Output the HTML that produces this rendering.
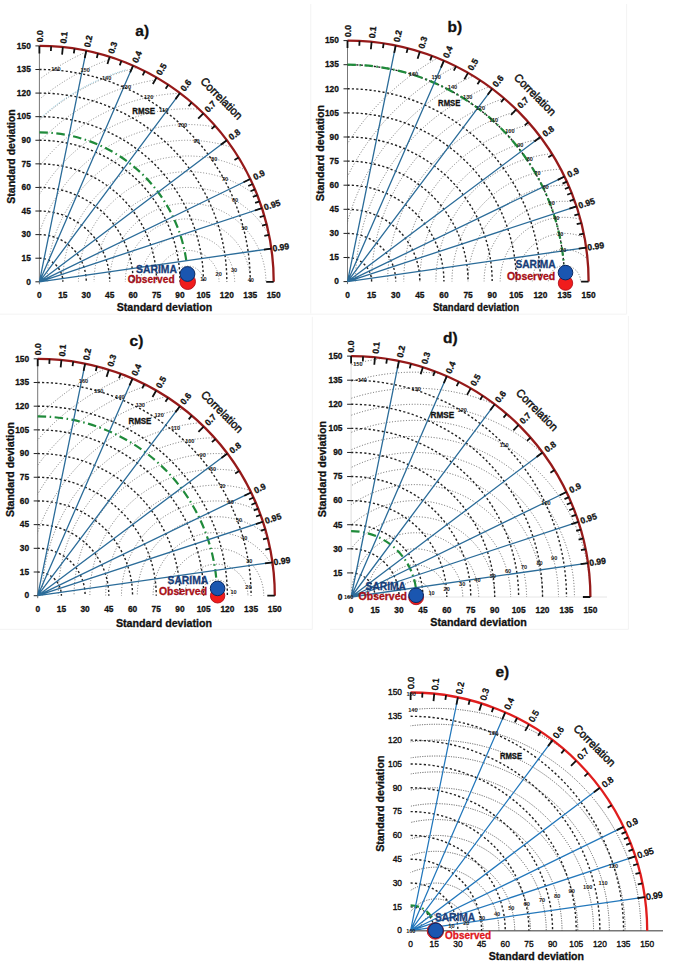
<!DOCTYPE html>
<html><head><meta charset="utf-8"><style>
html,body{margin:0;padding:0;background:#fff;}
body{width:685px;height:965px;overflow:hidden;}
svg{display:block;font-family:"Liberation Sans", sans-serif;}
</style></head><body>
<svg width="685" height="965" viewBox="0 0 685 965">
<g stroke="#f3f3f3" stroke-width="1"><line x1="310.8" y1="4" x2="310.8" y2="313.5"/><line x1="0" y1="314.2" x2="626.6" y2="314.2"/><line x1="626.6" y1="4" x2="626.6" y2="313.9"/><line x1="312.3" y1="316.8" x2="312.3" y2="629.3"/><line x1="0" y1="629.3" x2="312.3" y2="629.3"/><line x1="628.4" y1="316" x2="628.4" y2="629.3"/><line x1="330" y1="629.3" x2="628.4" y2="629.3"/></g>
<clipPath id="qa"><path d="M39.4 281.8 L273.7 281.8 A234.3 235.9 0 0 0 39.4 45.9 Z"/></clipPath>
<line x1="39.4" y1="284.3" x2="39.4" y2="45.9" stroke="#777" stroke-width="1"/>
<g clip-path="url(#qa)" fill="none" stroke="#7a7a7a" stroke-width="0.9" stroke-dasharray="1 1.8"><ellipse cx="187.79" cy="281.8" rx="15.62" ry="15.73"/><ellipse cx="187.79" cy="281.8" rx="31.24" ry="31.45"/><ellipse cx="187.79" cy="281.8" rx="46.86" ry="47.18"/><ellipse cx="187.79" cy="281.8" rx="62.48" ry="62.91"/><ellipse cx="187.79" cy="281.8" rx="78.1" ry="78.63"/><ellipse cx="187.79" cy="281.8" rx="93.72" ry="94.36"/><ellipse cx="187.79" cy="281.8" rx="109.34" ry="110.09"/><ellipse cx="187.79" cy="281.8" rx="124.96" ry="125.81"/><ellipse cx="187.79" cy="281.8" rx="140.58" ry="141.54"/><ellipse cx="187.79" cy="281.8" rx="156.2" ry="157.27"/><ellipse cx="187.79" cy="281.8" rx="171.82" ry="172.99"/><ellipse cx="187.79" cy="281.8" rx="187.44" ry="188.72"/><ellipse cx="187.79" cy="281.8" rx="203.06" ry="204.45"/><ellipse cx="187.79" cy="281.8" rx="218.68" ry="220.17"/><ellipse cx="187.79" cy="281.8" rx="234.3" ry="235.9"/><ellipse cx="187.79" cy="281.8" rx="249.92" ry="251.63"/></g>
<path d="M39.4 119.01A219.46 220.96 0 0 1 126 69.78" fill="none" stroke="#8cc6dc" stroke-width="1" stroke-dasharray="1.2 1.4"/>
<g fill="none" stroke="#222" stroke-width="1.4" stroke-dasharray="2.2 2.2"><path d="M39.4 258.21A23.43 23.59 0 0 1 62.83 281.8"/><path d="M39.4 234.62A46.86 47.18 0 0 1 86.26 281.8"/><path d="M39.4 211.03A70.29 70.77 0 0 1 109.69 281.8"/><path d="M39.4 187.44A93.72 94.36 0 0 1 133.12 281.8"/><path d="M39.4 163.85A117.15 117.95 0 0 1 156.55 281.8"/><path d="M39.4 140.26A140.58 141.54 0 0 1 179.98 281.8"/><path d="M39.4 116.67A164.01 165.13 0 0 1 203.41 281.8"/><path d="M39.4 93.08A187.44 188.72 0 0 1 226.84 281.8"/><path d="M39.4 69.49A210.87 212.31 0 0 1 250.27 281.8"/></g>
<path d="M35.4 281.8H39.4M35.4 258.21H39.4M35.4 234.62H39.4M35.4 211.03H39.4M35.4 187.44H39.4M35.4 163.85H39.4M35.4 140.26H39.4M35.4 116.67H39.4M35.4 93.08H39.4M35.4 69.49H39.4M35.4 45.9H39.4" stroke="#222" stroke-width="1"/>
<path d="M39.4 132.4A148.39 149.4 0 0 1 186.6 262.94" fill="none" stroke="#1f8a3a" stroke-width="2.2" stroke-dasharray="8.5 3.5 1.5 3.5"/>
<path d="M39.4 281.8L86.26 50.67M39.4 281.8L133.12 65.59M39.4 281.8L179.98 93.08M39.4 281.8L226.84 140.26M39.4 281.8L250.27 178.97M39.4 281.8L261.99 208.14M39.4 281.8L271.36 248.52" stroke="#2b6c99" stroke-width="1.3" fill="none"/>
<path d="M39.4 45.9A234.3 235.9 0 0 1 273.7 281.8" fill="none" stroke="#961a1a" stroke-width="2.3"/>
<path d="M39.4 45.9L39.4 53.4M62.83 47.08L62.09 54.55M86.26 50.67L84.77 58.02M109.69 56.77L107.45 63.92M133.12 65.59L130.14 72.48M156.55 77.5L152.82 84.01M179.98 93.08L175.5 99.09M203.41 113.33L198.18 118.71M226.84 140.26L220.85 144.78M250.27 178.97L243.53 182.26M261.99 208.14L254.86 210.5M271.36 248.52L263.93 249.59M273.7 281.8L266.2 281.8M51.12 46.2L50.88 50.99M74.54 48.57L73.83 53.32M97.97 53.39L96.78 58.04M121.41 60.82L119.74 65.32M144.84 71.13L142.69 75.43M168.27 84.78L165.64 88.8M191.7 102.53L188.59 106.19M215.13 125.77L211.54 128.95M238.56 157.53L234.48 160.07M252.61 183.99L248.25 186M254.96 189.35L250.54 191.24M257.3 195.09L252.84 196.87M259.64 201.32L255.13 202.96M264.33 215.75L259.72 217.1M266.67 224.45L262.02 225.63M269.01 234.86L264.31 235.82" stroke="#111" stroke-width="1.8" fill="none"/>
<g font-size="8.8" font-weight="bold" fill="#111" stroke="#111" stroke-width="0.3"><text transform="translate(39.4 42.3) rotate(-90)" y="3.12" textLength="11.99" lengthAdjust="spacingAndGlyphs">0.0</text><text transform="translate(63.19 43.5) rotate(-84.3)" y="3.12" textLength="11.99" lengthAdjust="spacingAndGlyphs">0.1</text><text transform="translate(86.98 47.14) rotate(-78.54)" y="3.12" textLength="11.99" lengthAdjust="spacingAndGlyphs">0.2</text><text transform="translate(110.76 53.33) rotate(-72.65)" y="3.12" textLength="11.99" lengthAdjust="spacingAndGlyphs">0.3</text><text transform="translate(134.55 62.29) rotate(-66.56)" y="3.12" textLength="11.99" lengthAdjust="spacingAndGlyphs">0.4</text><text transform="translate(158.34 74.38) rotate(-60.17)" y="3.12" textLength="11.99" lengthAdjust="spacingAndGlyphs">0.5</text><text transform="translate(182.13 90.19) rotate(-53.32)" y="3.12" textLength="11.99" lengthAdjust="spacingAndGlyphs">0.6</text><text transform="translate(205.92 110.75) rotate(-45.77)" y="3.12" textLength="11.99" lengthAdjust="spacingAndGlyphs">0.7</text><text transform="translate(229.71 138.09) rotate(-37.06)" y="3.12" textLength="11.99" lengthAdjust="spacingAndGlyphs">0.8</text><text transform="translate(253.51 177.4) rotate(-26)" y="3.12" textLength="11.99" lengthAdjust="spacingAndGlyphs">0.9</text><text transform="translate(264.07 207.45) rotate(-18.31)" y="3.12" textLength="16.78" lengthAdjust="spacingAndGlyphs">0.95</text><text transform="translate(272.54 248.35) rotate(-8.16)" y="3.12" textLength="16.78" lengthAdjust="spacingAndGlyphs">0.99</text></g>
<g font-size="9.3" font-weight="bold" fill="#111" stroke="#111" stroke-width="0.3"><text x="30.8" y="284.59" text-anchor="end" textLength="4.65" lengthAdjust="spacingAndGlyphs">0</text><text x="39.4" y="297.8" text-anchor="middle" textLength="4.65" lengthAdjust="spacingAndGlyphs">0</text><text x="30.8" y="261" text-anchor="end" textLength="9.31" lengthAdjust="spacingAndGlyphs">15</text><text x="62.83" y="297.8" text-anchor="middle" textLength="9.31" lengthAdjust="spacingAndGlyphs">15</text><text x="30.8" y="237.41" text-anchor="end" textLength="9.31" lengthAdjust="spacingAndGlyphs">30</text><text x="86.26" y="297.8" text-anchor="middle" textLength="9.31" lengthAdjust="spacingAndGlyphs">30</text><text x="30.8" y="213.82" text-anchor="end" textLength="9.31" lengthAdjust="spacingAndGlyphs">45</text><text x="109.69" y="297.8" text-anchor="middle" textLength="9.31" lengthAdjust="spacingAndGlyphs">45</text><text x="30.8" y="190.23" text-anchor="end" textLength="9.31" lengthAdjust="spacingAndGlyphs">60</text><text x="133.12" y="297.8" text-anchor="middle" textLength="9.31" lengthAdjust="spacingAndGlyphs">60</text><text x="30.8" y="166.64" text-anchor="end" textLength="9.31" lengthAdjust="spacingAndGlyphs">75</text><text x="156.55" y="297.8" text-anchor="middle" textLength="9.31" lengthAdjust="spacingAndGlyphs">75</text><text x="30.8" y="143.05" text-anchor="end" textLength="9.31" lengthAdjust="spacingAndGlyphs">90</text><text x="179.98" y="297.8" text-anchor="middle" textLength="9.31" lengthAdjust="spacingAndGlyphs">90</text><text x="30.8" y="119.46" text-anchor="end" textLength="13.96" lengthAdjust="spacingAndGlyphs">105</text><text x="203.41" y="297.8" text-anchor="middle" textLength="13.96" lengthAdjust="spacingAndGlyphs">105</text><text x="30.8" y="95.87" text-anchor="end" textLength="13.96" lengthAdjust="spacingAndGlyphs">120</text><text x="226.84" y="297.8" text-anchor="middle" textLength="13.96" lengthAdjust="spacingAndGlyphs">120</text><text x="30.8" y="72.28" text-anchor="end" textLength="13.96" lengthAdjust="spacingAndGlyphs">135</text><text x="250.27" y="297.8" text-anchor="middle" textLength="13.96" lengthAdjust="spacingAndGlyphs">135</text><text x="30.8" y="48.69" text-anchor="end" textLength="13.96" lengthAdjust="spacingAndGlyphs">150</text><text x="273.7" y="297.8" text-anchor="middle" textLength="13.96" lengthAdjust="spacingAndGlyphs">150</text></g>
<text x="164.4" y="311" font-size="10.7" font-weight="bold" fill="#111" stroke="#111" stroke-width="0.3" text-anchor="middle" textLength="95.5" lengthAdjust="spacingAndGlyphs">Standard deviation</text>
<text transform="translate(14.5 156.5) rotate(-90)" font-size="10.7" font-weight="bold" fill="#111" stroke="#111" stroke-width="0.3" text-anchor="middle" textLength="94.3" lengthAdjust="spacingAndGlyphs">Standard deviation</text>
<text transform="translate(218.75 101.2) rotate(45)" font-size="11.5" fill="#111" text-anchor="middle" textLength="54" lengthAdjust="spacingAndGlyphs" stroke="#111" stroke-width="0.45">Correlation</text>
<text x="135.3" y="36" font-size="15.5" font-weight="bold" fill="#111" stroke="#111" stroke-width="0.3">a)</text>
<text x="132.3" y="114.3" font-size="8.7" font-weight="bold" fill="#111" stroke="#111" stroke-width="0.3" textLength="22.7" lengthAdjust="spacingAndGlyphs">RMSE</text>
<g font-size="5.6" fill="#222" font-weight="bold"><text x="55.9" y="71.1" text-anchor="middle">160</text><text x="85.1" y="71.8" text-anchor="middle">150</text><text x="106.6" y="79.9" text-anchor="middle">140</text><text x="126.4" y="89.3" text-anchor="middle">130</text><text x="148.6" y="99.1" text-anchor="middle">120</text><text x="163.8" y="112.2" text-anchor="middle">110</text><text x="182.5" y="127.1" text-anchor="middle">100</text><text x="196.5" y="143" text-anchor="middle">90</text><text x="214.2" y="160.9" text-anchor="middle">80</text><text x="224.9" y="180.8" text-anchor="middle">70</text><text x="235.1" y="202.1" text-anchor="middle">60</text><text x="244.5" y="230.2" text-anchor="middle">50</text><text x="250.8" y="282.2" text-anchor="middle">40</text><text x="234" y="271.7" text-anchor="middle">30</text><text x="218.7" y="276.4" text-anchor="middle">20</text><text x="203.4" y="280.7" text-anchor="middle">10</text></g>
<circle cx="187.7" cy="281.7" r="7.8" fill="#f01c1c" stroke="#b0101a" stroke-width="0.9"/>
<circle cx="187.5" cy="274" r="7.4" fill="#1a56b0" stroke="#0a2860" stroke-width="1.0"/>
<text x="176.9" y="273" font-size="11" font-weight="bold" fill="#173c78" stroke="#173c78" stroke-width="0.3" text-anchor="end" textLength="40.8" lengthAdjust="spacingAndGlyphs">SARIMA</text>
<text x="174.6" y="283.4" font-size="11" font-weight="bold" fill="#a80e16" stroke="#a80e16" stroke-width="0.3" text-anchor="end" textLength="46.9" lengthAdjust="spacingAndGlyphs">Observed</text><clipPath id="qb"><path d="M347.5 281.6 L588.6 281.6 A241.1 241 0 0 0 347.5 40.6 Z"/></clipPath>
<line x1="347.5" y1="284.1" x2="347.5" y2="40.6" stroke="#777" stroke-width="1"/>
<g clip-path="url(#qb)" fill="none" stroke="#626262" stroke-width="0.9" stroke-dasharray="1 1.8"><ellipse cx="564.49" cy="281.6" rx="16.07" ry="16.07"/><ellipse cx="564.49" cy="281.6" rx="32.15" ry="32.13"/><ellipse cx="564.49" cy="281.6" rx="48.22" ry="48.2"/><ellipse cx="564.49" cy="281.6" rx="64.29" ry="64.27"/><ellipse cx="564.49" cy="281.6" rx="80.37" ry="80.33"/><ellipse cx="564.49" cy="281.6" rx="96.44" ry="96.4"/><ellipse cx="564.49" cy="281.6" rx="112.51" ry="112.47"/><ellipse cx="564.49" cy="281.6" rx="128.59" ry="128.53"/><ellipse cx="564.49" cy="281.6" rx="144.66" ry="144.6"/><ellipse cx="564.49" cy="281.6" rx="160.73" ry="160.67"/><ellipse cx="564.49" cy="281.6" rx="176.81" ry="176.73"/><ellipse cx="564.49" cy="281.6" rx="192.88" ry="192.8"/><ellipse cx="564.49" cy="281.6" rx="208.95" ry="208.87"/><ellipse cx="564.49" cy="281.6" rx="225.03" ry="224.93"/><ellipse cx="564.49" cy="281.6" rx="241.1" ry="241"/><ellipse cx="564.49" cy="281.6" rx="257.17" ry="257.07"/></g>
<g fill="none" stroke="#222" stroke-width="1.4" stroke-dasharray="2.2 2.2"><path d="M347.5 257.5A24.11 24.1 0 0 1 371.61 281.6"/><path d="M347.5 233.4A48.22 48.2 0 0 1 395.72 281.6"/><path d="M347.5 209.3A72.33 72.3 0 0 1 419.83 281.6"/><path d="M347.5 185.2A96.44 96.4 0 0 1 443.94 281.6"/><path d="M347.5 161.1A120.55 120.5 0 0 1 468.05 281.6"/><path d="M347.5 137A144.66 144.6 0 0 1 492.16 281.6"/><path d="M347.5 112.9A168.77 168.7 0 0 1 516.27 281.6"/><path d="M347.5 88.8A192.88 192.8 0 0 1 540.38 281.6"/><path d="M347.5 64.7A216.99 216.9 0 0 1 564.49 281.6"/></g>
<path d="M343.5 281.6H347.5M343.5 257.5H347.5M343.5 233.4H347.5M343.5 209.3H347.5M343.5 185.2H347.5M343.5 161.1H347.5M343.5 137H347.5M343.5 112.9H347.5M343.5 88.8H347.5M343.5 64.7H347.5M343.5 40.6H347.5" stroke="#222" stroke-width="1"/>
<path d="M347.5 64.7A216.99 216.9 0 0 1 563.8 264.26" fill="none" stroke="#1f8a3a" stroke-width="2.2" stroke-dasharray="8.5 3.5 1.5 3.5"/>
<path d="M347.5 281.6L395.72 45.47M347.5 281.6L443.94 60.72M347.5 281.6L492.16 88.8M347.5 281.6L540.38 137M347.5 281.6L564.49 176.55M347.5 281.6L576.54 206.35M347.5 281.6L586.19 247.6" stroke="#2b6c99" stroke-width="1.3" fill="none"/>
<path d="M347.5 40.6A241.1 241 0 0 1 588.6 281.6" fill="none" stroke="#961a1a" stroke-width="2.3"/>
<path d="M347.5 40.6L347.5 48.1M371.61 41.81L370.86 49.27M395.72 45.47L394.22 52.82M419.83 51.7L417.58 58.85M443.94 60.72L440.94 67.59M468.05 72.89L464.3 79.38M492.16 88.8L487.66 94.8M516.27 109.49L511.02 114.85M540.38 137L534.38 141.5M564.49 176.55L557.74 179.82M576.54 206.35L569.42 208.69M586.19 247.6L578.76 248.66M588.6 281.6L581.1 281.6M359.56 40.9L359.31 45.7M383.66 43.33L382.94 48.07M407.77 48.25L406.57 52.9M431.88 55.84L430.2 60.34M456 66.38L453.83 70.67M480.11 80.33L477.46 84.33M504.22 98.46L501.09 102.1M528.33 122.19L524.72 125.37M552.44 154.65L548.35 157.17M566.9 181.68L562.53 183.67M569.31 187.15L564.9 189.03M571.72 193.02L567.26 194.78M574.13 199.38L569.62 201.01M578.96 214.12L574.35 215.46M581.37 223.01L576.71 224.18M583.78 233.64L579.07 234.6" stroke="#111" stroke-width="1.8" fill="none"/>
<g font-size="8.8" font-weight="bold" fill="#111" stroke="#111" stroke-width="0.3"><text transform="translate(347.5 37) rotate(-90)" y="3.12" textLength="11.99" lengthAdjust="spacingAndGlyphs">0.0</text><text transform="translate(371.97 38.23) rotate(-84.26)" y="3.12" textLength="11.99" lengthAdjust="spacingAndGlyphs">0.1</text><text transform="translate(396.44 41.94) rotate(-78.46)" y="3.12" textLength="11.99" lengthAdjust="spacingAndGlyphs">0.2</text><text transform="translate(420.91 48.27) rotate(-72.54)" y="3.12" textLength="11.99" lengthAdjust="spacingAndGlyphs">0.3</text><text transform="translate(445.38 57.42) rotate(-66.41)" y="3.12" textLength="11.99" lengthAdjust="spacingAndGlyphs">0.4</text><text transform="translate(469.85 69.77) rotate(-59.99)" y="3.12" textLength="11.99" lengthAdjust="spacingAndGlyphs">0.5</text><text transform="translate(494.32 85.92) rotate(-53.12)" y="3.12" textLength="11.99" lengthAdjust="spacingAndGlyphs">0.6</text><text transform="translate(518.79 106.92) rotate(-45.56)" y="3.12" textLength="11.99" lengthAdjust="spacingAndGlyphs">0.7</text><text transform="translate(543.26 134.84) rotate(-36.86)" y="3.12" textLength="11.99" lengthAdjust="spacingAndGlyphs">0.8</text><text transform="translate(567.73 174.98) rotate(-25.83)" y="3.12" textLength="11.99" lengthAdjust="spacingAndGlyphs">0.9</text><text transform="translate(578.64 205.66) rotate(-18.19)" y="3.12" textLength="16.78" lengthAdjust="spacingAndGlyphs">0.95</text><text transform="translate(587.38 247.43) rotate(-8.11)" y="3.12" textLength="16.78" lengthAdjust="spacingAndGlyphs">0.99</text></g>
<g font-size="9.3" font-weight="bold" fill="#111" stroke="#111" stroke-width="0.3"><text x="338.9" y="284.39" text-anchor="end" textLength="4.65" lengthAdjust="spacingAndGlyphs">0</text><text x="347.5" y="297.6" text-anchor="middle" textLength="4.65" lengthAdjust="spacingAndGlyphs">0</text><text x="338.9" y="260.29" text-anchor="end" textLength="9.31" lengthAdjust="spacingAndGlyphs">15</text><text x="371.61" y="297.6" text-anchor="middle" textLength="9.31" lengthAdjust="spacingAndGlyphs">15</text><text x="338.9" y="236.19" text-anchor="end" textLength="9.31" lengthAdjust="spacingAndGlyphs">30</text><text x="395.72" y="297.6" text-anchor="middle" textLength="9.31" lengthAdjust="spacingAndGlyphs">30</text><text x="338.9" y="212.09" text-anchor="end" textLength="9.31" lengthAdjust="spacingAndGlyphs">45</text><text x="419.83" y="297.6" text-anchor="middle" textLength="9.31" lengthAdjust="spacingAndGlyphs">45</text><text x="338.9" y="187.99" text-anchor="end" textLength="9.31" lengthAdjust="spacingAndGlyphs">60</text><text x="443.94" y="297.6" text-anchor="middle" textLength="9.31" lengthAdjust="spacingAndGlyphs">60</text><text x="338.9" y="163.89" text-anchor="end" textLength="9.31" lengthAdjust="spacingAndGlyphs">75</text><text x="468.05" y="297.6" text-anchor="middle" textLength="9.31" lengthAdjust="spacingAndGlyphs">75</text><text x="338.9" y="139.79" text-anchor="end" textLength="9.31" lengthAdjust="spacingAndGlyphs">90</text><text x="492.16" y="297.6" text-anchor="middle" textLength="9.31" lengthAdjust="spacingAndGlyphs">90</text><text x="338.9" y="115.69" text-anchor="end" textLength="13.96" lengthAdjust="spacingAndGlyphs">105</text><text x="516.27" y="297.6" text-anchor="middle" textLength="13.96" lengthAdjust="spacingAndGlyphs">105</text><text x="338.9" y="91.59" text-anchor="end" textLength="13.96" lengthAdjust="spacingAndGlyphs">120</text><text x="540.38" y="297.6" text-anchor="middle" textLength="13.96" lengthAdjust="spacingAndGlyphs">120</text><text x="338.9" y="67.49" text-anchor="end" textLength="13.96" lengthAdjust="spacingAndGlyphs">135</text><text x="564.49" y="297.6" text-anchor="middle" textLength="13.96" lengthAdjust="spacingAndGlyphs">135</text><text x="338.9" y="43.39" text-anchor="end" textLength="13.96" lengthAdjust="spacingAndGlyphs">150</text><text x="588.6" y="297.6" text-anchor="middle" textLength="13.96" lengthAdjust="spacingAndGlyphs">150</text></g>
<text x="476" y="311.3" font-size="10.7" font-weight="bold" fill="#111" stroke="#111" stroke-width="0.3" text-anchor="middle" textLength="86" lengthAdjust="spacingAndGlyphs">Standard deviation</text>
<text transform="translate(324.1 153) rotate(-90)" font-size="10.7" font-weight="bold" fill="#111" stroke="#111" stroke-width="0.3" text-anchor="middle" textLength="96.3" lengthAdjust="spacingAndGlyphs">Standard deviation</text>
<text transform="translate(532.35 97.4) rotate(45)" font-size="11.5" fill="#111" text-anchor="middle" textLength="54" lengthAdjust="spacingAndGlyphs" stroke="#111" stroke-width="0.45">Correlation</text>
<text x="447.5" y="32.2" font-size="15.5" font-weight="bold" fill="#111" stroke="#111" stroke-width="0.3">b)</text>
<text x="438.1" y="106.2" font-size="8.9" font-weight="bold" fill="#111" stroke="#111" stroke-width="0.3" textLength="22.2" lengthAdjust="spacingAndGlyphs">RMSE</text>
<g font-size="5.6" fill="#222" font-weight="bold"><text x="413.5" y="76.1" text-anchor="middle">160</text><text x="436.1" y="79.1" text-anchor="middle">150</text><text x="452.5" y="89" text-anchor="middle">140</text><text x="467.7" y="99" text-anchor="middle">130</text><text x="480.4" y="110.4" text-anchor="middle">120</text><text x="493.7" y="122.4" text-anchor="middle">110</text><text x="509.9" y="132.6" text-anchor="middle">100</text><text x="520.3" y="146.5" text-anchor="middle">90</text><text x="529.8" y="160.7" text-anchor="middle">80</text><text x="537.4" y="174.6" text-anchor="middle">70</text><text x="545.5" y="189.2" text-anchor="middle">60</text><text x="551.7" y="204.9" text-anchor="middle">50</text><text x="556.3" y="220" text-anchor="middle">40</text><text x="560.3" y="236.4" text-anchor="middle">30</text><text x="563.2" y="251.9" text-anchor="middle">20</text></g>
<circle cx="565.5" cy="283.1" r="7.2" fill="#f01c1c" stroke="#b0101a" stroke-width="0.9"/>
<circle cx="565.5" cy="272.6" r="7.3" fill="#1a56b0" stroke="#0a2860" stroke-width="1.0"/>
<text x="555.6" y="268.3" font-size="11" font-weight="bold" fill="#173c78" stroke="#173c78" stroke-width="0.3" text-anchor="end" textLength="40.2" lengthAdjust="spacingAndGlyphs">SARIMA</text>
<text x="555.2" y="280.1" font-size="11" font-weight="bold" fill="#a80e16" stroke="#a80e16" stroke-width="0.3" text-anchor="end" textLength="48.3" lengthAdjust="spacingAndGlyphs">Observed</text><clipPath id="qc"><path d="M37.7 595.7 L274.8 595.7 A237.1 236.9 0 0 0 37.7 358.8 Z"/></clipPath>
<line x1="37.7" y1="598.2" x2="37.7" y2="358.8" stroke="#777" stroke-width="1"/>
<g clip-path="url(#qc)" fill="none" stroke="#626262" stroke-width="0.9" stroke-dasharray="1 1.8"><ellipse cx="216.32" cy="595.7" rx="15.81" ry="15.79"/><ellipse cx="216.32" cy="595.7" rx="31.61" ry="31.59"/><ellipse cx="216.32" cy="595.7" rx="47.42" ry="47.38"/><ellipse cx="216.32" cy="595.7" rx="63.23" ry="63.17"/><ellipse cx="216.32" cy="595.7" rx="79.03" ry="78.97"/><ellipse cx="216.32" cy="595.7" rx="94.84" ry="94.76"/><ellipse cx="216.32" cy="595.7" rx="110.65" ry="110.55"/><ellipse cx="216.32" cy="595.7" rx="126.45" ry="126.35"/><ellipse cx="216.32" cy="595.7" rx="142.26" ry="142.14"/><ellipse cx="216.32" cy="595.7" rx="158.07" ry="157.93"/><ellipse cx="216.32" cy="595.7" rx="173.87" ry="173.73"/><ellipse cx="216.32" cy="595.7" rx="189.68" ry="189.52"/><ellipse cx="216.32" cy="595.7" rx="205.49" ry="205.31"/><ellipse cx="216.32" cy="595.7" rx="221.29" ry="221.11"/><ellipse cx="216.32" cy="595.7" rx="237.1" ry="236.9"/><ellipse cx="216.32" cy="595.7" rx="252.91" ry="252.69"/></g>
<g fill="none" stroke="#222" stroke-width="1.4" stroke-dasharray="2.2 2.2"><path d="M37.7 572.01A23.71 23.69 0 0 1 61.41 595.7"/><path d="M37.7 548.32A47.42 47.38 0 0 1 85.12 595.7"/><path d="M37.7 524.63A71.13 71.07 0 0 1 108.83 595.7"/><path d="M37.7 500.94A94.84 94.76 0 0 1 132.54 595.7"/><path d="M37.7 477.25A118.55 118.45 0 0 1 156.25 595.7"/><path d="M37.7 453.56A142.26 142.14 0 0 1 179.96 595.7"/><path d="M37.7 429.87A165.97 165.83 0 0 1 203.67 595.7"/><path d="M37.7 406.18A189.68 189.52 0 0 1 227.38 595.7"/><path d="M37.7 382.49A213.39 213.21 0 0 1 251.09 595.7"/></g>
<path d="M33.7 595.7H37.7M33.7 572.01H37.7M33.7 548.32H37.7M33.7 524.63H37.7M33.7 500.94H37.7M33.7 477.25H37.7M33.7 453.56H37.7M33.7 429.87H37.7M33.7 406.18H37.7M33.7 382.49H37.7M33.7 358.8H37.7" stroke="#222" stroke-width="1"/>
<path d="M37.7 416.45A179.41 179.25 0 0 1 216.44 580.29" fill="none" stroke="#1f8a3a" stroke-width="2.2" stroke-dasharray="8.5 3.5 1.5 3.5"/>
<path d="M37.7 595.7L85.12 363.59M37.7 595.7L132.54 378.58M37.7 595.7L179.96 406.18M37.7 595.7L227.38 453.56M37.7 595.7L251.09 492.44M37.7 595.7L262.94 521.73M37.7 595.7L272.43 562.28" stroke="#2b6c99" stroke-width="1.3" fill="none"/>
<path d="M37.7 358.8A237.1 236.9 0 0 1 274.8 595.7" fill="none" stroke="#961a1a" stroke-width="2.3"/>
<path d="M37.7 358.8L37.7 366.3M61.41 359.99L60.66 367.45M85.12 363.59L83.62 370.93M108.83 369.71L106.58 376.87M132.54 378.58L129.54 385.45M156.25 390.54L152.5 397.03M179.96 406.18L175.46 412.18M203.67 426.52L198.42 431.87M227.38 453.56L221.38 458.06M251.09 492.44L244.34 495.7M262.94 521.73L255.82 524.07M272.43 562.28L265 563.34M274.8 595.7L267.3 595.7M49.56 359.1L49.31 363.89M73.26 361.48L72.54 366.23M96.97 366.32L95.77 370.97M120.69 373.78L119 378.28M144.39 384.14L142.23 388.43M168.11 397.85L165.46 401.86M191.81 415.67L188.69 419.32M215.52 439.01L211.92 442.18M239.24 470.91L235.15 473.43M253.46 497.48L249.09 499.47M255.83 502.85L251.42 504.73M258.2 508.63L253.74 510.39M260.57 514.88L256.06 516.51M265.32 529.37L260.71 530.71M267.69 538.11L263.03 539.27M270.06 548.56L265.35 549.51" stroke="#111" stroke-width="1.8" fill="none"/>
<g font-size="8.8" font-weight="bold" fill="#111" stroke="#111" stroke-width="0.3"><text transform="translate(37.7 355.2) rotate(-90)" y="3.12" textLength="11.99" lengthAdjust="spacingAndGlyphs">0.0</text><text transform="translate(61.77 356.41) rotate(-84.26)" y="3.12" textLength="11.99" lengthAdjust="spacingAndGlyphs">0.1</text><text transform="translate(85.84 360.06) rotate(-78.45)" y="3.12" textLength="11.99" lengthAdjust="spacingAndGlyphs">0.2</text><text transform="translate(109.91 366.28) rotate(-72.53)" y="3.12" textLength="11.99" lengthAdjust="spacingAndGlyphs">0.3</text><text transform="translate(133.98 375.28) rotate(-66.4)" y="3.12" textLength="11.99" lengthAdjust="spacingAndGlyphs">0.4</text><text transform="translate(158.05 387.42) rotate(-59.98)" y="3.12" textLength="11.99" lengthAdjust="spacingAndGlyphs">0.5</text><text transform="translate(182.12 403.3) rotate(-53.11)" y="3.12" textLength="11.99" lengthAdjust="spacingAndGlyphs">0.6</text><text transform="translate(206.19 423.95) rotate(-45.55)" y="3.12" textLength="11.99" lengthAdjust="spacingAndGlyphs">0.7</text><text transform="translate(230.26 451.4) rotate(-36.85)" y="3.12" textLength="11.99" lengthAdjust="spacingAndGlyphs">0.8</text><text transform="translate(254.33 490.87) rotate(-25.82)" y="3.12" textLength="11.99" lengthAdjust="spacingAndGlyphs">0.9</text><text transform="translate(265.04 521.04) rotate(-18.18)" y="3.12" textLength="16.78" lengthAdjust="spacingAndGlyphs">0.95</text><text transform="translate(273.62 562.11) rotate(-8.1)" y="3.12" textLength="16.78" lengthAdjust="spacingAndGlyphs">0.99</text></g>
<g font-size="9.3" font-weight="bold" fill="#111" stroke="#111" stroke-width="0.3"><text x="29.1" y="598.49" text-anchor="end" textLength="4.65" lengthAdjust="spacingAndGlyphs">0</text><text x="37.7" y="611.7" text-anchor="middle" textLength="4.65" lengthAdjust="spacingAndGlyphs">0</text><text x="29.1" y="574.8" text-anchor="end" textLength="9.31" lengthAdjust="spacingAndGlyphs">15</text><text x="61.41" y="611.7" text-anchor="middle" textLength="9.31" lengthAdjust="spacingAndGlyphs">15</text><text x="29.1" y="551.11" text-anchor="end" textLength="9.31" lengthAdjust="spacingAndGlyphs">30</text><text x="85.12" y="611.7" text-anchor="middle" textLength="9.31" lengthAdjust="spacingAndGlyphs">30</text><text x="29.1" y="527.42" text-anchor="end" textLength="9.31" lengthAdjust="spacingAndGlyphs">45</text><text x="108.83" y="611.7" text-anchor="middle" textLength="9.31" lengthAdjust="spacingAndGlyphs">45</text><text x="29.1" y="503.73" text-anchor="end" textLength="9.31" lengthAdjust="spacingAndGlyphs">60</text><text x="132.54" y="611.7" text-anchor="middle" textLength="9.31" lengthAdjust="spacingAndGlyphs">60</text><text x="29.1" y="480.04" text-anchor="end" textLength="9.31" lengthAdjust="spacingAndGlyphs">75</text><text x="156.25" y="611.7" text-anchor="middle" textLength="9.31" lengthAdjust="spacingAndGlyphs">75</text><text x="29.1" y="456.35" text-anchor="end" textLength="9.31" lengthAdjust="spacingAndGlyphs">90</text><text x="179.96" y="611.7" text-anchor="middle" textLength="9.31" lengthAdjust="spacingAndGlyphs">90</text><text x="29.1" y="432.66" text-anchor="end" textLength="13.96" lengthAdjust="spacingAndGlyphs">105</text><text x="203.67" y="611.7" text-anchor="middle" textLength="13.96" lengthAdjust="spacingAndGlyphs">105</text><text x="29.1" y="408.97" text-anchor="end" textLength="13.96" lengthAdjust="spacingAndGlyphs">120</text><text x="227.38" y="611.7" text-anchor="middle" textLength="13.96" lengthAdjust="spacingAndGlyphs">120</text><text x="29.1" y="385.28" text-anchor="end" textLength="13.96" lengthAdjust="spacingAndGlyphs">135</text><text x="251.09" y="611.7" text-anchor="middle" textLength="13.96" lengthAdjust="spacingAndGlyphs">135</text><text x="29.1" y="361.59" text-anchor="end" textLength="13.96" lengthAdjust="spacingAndGlyphs">150</text><text x="274.8" y="611.7" text-anchor="middle" textLength="13.96" lengthAdjust="spacingAndGlyphs">150</text></g>
<text x="164" y="626.6" font-size="10.7" font-weight="bold" fill="#111" stroke="#111" stroke-width="0.3" text-anchor="middle" textLength="96.1" lengthAdjust="spacingAndGlyphs">Standard deviation</text>
<text transform="translate(13.5 469.5) rotate(-90)" font-size="10.7" font-weight="bold" fill="#111" stroke="#111" stroke-width="0.3" text-anchor="middle" textLength="95" lengthAdjust="spacingAndGlyphs">Standard deviation</text>
<text transform="translate(219.25 414.5) rotate(45)" font-size="11.5" fill="#111" text-anchor="middle" textLength="54" lengthAdjust="spacingAndGlyphs" stroke="#111" stroke-width="0.45">Correlation</text>
<text x="129.6" y="346.2" font-size="15.5" font-weight="bold" fill="#111" stroke="#111" stroke-width="0.3">c)</text>
<text x="128.5" y="423.8" font-size="8.7" font-weight="bold" fill="#111" stroke="#111" stroke-width="0.3" textLength="22.9" lengthAdjust="spacingAndGlyphs">RMSE</text>
<g font-size="5.6" fill="#222" font-weight="bold"><text x="83.5" y="383.4" text-anchor="middle">160</text><text x="98.8" y="393" text-anchor="middle">150</text><text x="119.9" y="399.1" text-anchor="middle">140</text><text x="140.3" y="407.3" text-anchor="middle">130</text><text x="159.1" y="417.1" text-anchor="middle">120</text><text x="175.5" y="430.4" text-anchor="middle">110</text><text x="189.8" y="442.6" text-anchor="middle">100</text><text x="202.7" y="456.5" text-anchor="middle">90</text><text x="212.9" y="471.4" text-anchor="middle">80</text><text x="222.3" y="487.6" text-anchor="middle">70</text><text x="230.7" y="504.1" text-anchor="middle">60</text><text x="239.1" y="521.8" text-anchor="middle">50</text><text x="244.3" y="539.9" text-anchor="middle">40</text><text x="249.3" y="563.2" text-anchor="middle">30</text><text x="248.4" y="589.3" text-anchor="middle">20</text><text x="233.5" y="594" text-anchor="middle">10</text></g>
<circle cx="217.6" cy="595.8" r="7.2" fill="#f01c1c" stroke="#b0101a" stroke-width="0.9"/>
<circle cx="217.6" cy="588.4" r="7.3" fill="#1a56b0" stroke="#0a2860" stroke-width="1.0"/>
<text x="208.3" y="583.7" font-size="11" font-weight="bold" fill="#173c78" stroke="#173c78" stroke-width="0.3" text-anchor="end" textLength="40.8" lengthAdjust="spacingAndGlyphs">SARIMA</text>
<text x="207" y="594.9" font-size="11" font-weight="bold" fill="#a80e16" stroke="#a80e16" stroke-width="0.3" text-anchor="end" textLength="48" lengthAdjust="spacingAndGlyphs">Observed</text><clipPath id="qd"><path d="M351.1 597 L590.4 597 A239.3 240.9 0 0 0 351.1 356.1 Z"/></clipPath>
<line x1="351.1" y1="599.5" x2="351.1" y2="356.1" stroke="#ddd" stroke-width="1"/>
<line x1="351.1" y1="597" x2="607" y2="597" stroke="#e6e6e6" stroke-width="1"/>
<g clip-path="url(#qd)" fill="none" stroke="#555" stroke-width="0.9" stroke-dasharray="1 1.8"><ellipse cx="414.91" cy="597" rx="15.95" ry="16.06"/><ellipse cx="414.91" cy="597" rx="31.91" ry="32.12"/><ellipse cx="414.91" cy="597" rx="47.86" ry="48.18"/><ellipse cx="414.91" cy="597" rx="63.81" ry="64.24"/><ellipse cx="414.91" cy="597" rx="79.77" ry="80.3"/><ellipse cx="414.91" cy="597" rx="95.72" ry="96.36"/><ellipse cx="414.91" cy="597" rx="111.67" ry="112.42"/><ellipse cx="414.91" cy="597" rx="127.63" ry="128.48"/><ellipse cx="414.91" cy="597" rx="143.58" ry="144.54"/><ellipse cx="414.91" cy="597" rx="159.53" ry="160.6"/><ellipse cx="414.91" cy="597" rx="175.49" ry="176.66"/><ellipse cx="414.91" cy="597" rx="191.44" ry="192.72"/><ellipse cx="414.91" cy="597" rx="207.39" ry="208.78"/><ellipse cx="414.91" cy="597" rx="223.35" ry="224.84"/><ellipse cx="414.91" cy="597" rx="239.3" ry="240.9"/><ellipse cx="414.91" cy="597" rx="255.25" ry="256.96"/></g>
<g fill="none" stroke="#222" stroke-width="1.4" stroke-dasharray="2.2 2.2"><path d="M351.1 572.91A23.93 24.09 0 0 1 375.03 597"/><path d="M351.1 548.82A47.86 48.18 0 0 1 398.96 597"/><path d="M351.1 524.73A71.79 72.27 0 0 1 422.89 597"/><path d="M351.1 500.64A95.72 96.36 0 0 1 446.82 597"/><path d="M351.1 476.55A119.65 120.45 0 0 1 470.75 597"/><path d="M351.1 452.46A143.58 144.54 0 0 1 494.68 597"/><path d="M351.1 428.37A167.51 168.63 0 0 1 518.61 597"/><path d="M351.1 404.28A191.44 192.72 0 0 1 542.54 597"/><path d="M351.1 380.19A215.37 216.81 0 0 1 566.47 597"/></g>
<path d="M347.1 597H351.1M347.1 572.91H351.1M347.1 548.82H351.1M347.1 524.73H351.1M347.1 500.64H351.1M347.1 476.55H351.1M347.1 452.46H351.1M347.1 428.37H351.1M347.1 404.28H351.1M347.1 380.19H351.1M347.1 356.1H351.1" stroke="#222" stroke-width="1"/>
<path d="M351.1 531.15A65.41 65.85 0 0 1 415.85 587.71" fill="none" stroke="#1f8a3a" stroke-width="2.2" stroke-dasharray="8.5 3.5 1.5 3.5"/>
<path d="M351.1 597L398.96 360.97M351.1 597L446.82 376.21M351.1 597L494.68 404.28M351.1 597L542.54 452.46M351.1 597L566.47 491.99M351.1 597L578.44 521.78M351.1 597L588.01 563.02" stroke="#2b6c99" stroke-width="1.3" fill="none"/>
<path d="M351.1 356.1A239.3 240.9 0 0 1 590.4 597" fill="none" stroke="#961a1a" stroke-width="2.3"/>
<path d="M351.1 356.1L351.1 363.6M375.03 357.31L374.28 364.77M398.96 360.97L397.47 368.32M422.89 367.2L420.65 374.35M446.82 376.21L443.84 383.09M470.75 388.37L467.02 394.88M494.68 404.28L490.2 410.29M518.61 424.96L513.38 430.34M542.54 452.46L536.55 456.98M566.47 491.99L559.73 495.28M578.44 521.78L571.31 524.13M588.01 563.02L580.58 564.08M590.4 597L582.9 597M363.07 356.4L362.83 361.2M387 358.83L386.28 363.57M410.93 363.75L409.73 368.4M434.86 371.34L433.18 375.84M458.79 381.87L456.64 386.16M482.72 395.81L480.09 399.83M506.65 413.93L503.54 417.59M530.58 437.66L526.99 440.85M554.51 470.1L550.43 472.64M568.86 497.12L564.5 499.12M571.26 502.59L566.84 504.48M573.65 508.45L569.19 510.23M576.04 514.81L571.53 516.46M580.83 529.55L576.22 530.9M583.22 538.44L578.57 539.61M585.61 549.06L580.91 550.02" stroke="#111" stroke-width="1.8" fill="none"/>
<g font-size="8.8" font-weight="bold" fill="#111" stroke="#111" stroke-width="0.3"><text transform="translate(351.1 352.5) rotate(-90)" y="3.12" textLength="11.99" lengthAdjust="spacingAndGlyphs">0.0</text><text transform="translate(375.39 353.73) rotate(-84.3)" y="3.12" textLength="11.99" lengthAdjust="spacingAndGlyphs">0.1</text><text transform="translate(399.68 357.44) rotate(-78.54)" y="3.12" textLength="11.99" lengthAdjust="spacingAndGlyphs">0.2</text><text transform="translate(423.96 363.76) rotate(-72.65)" y="3.12" textLength="11.99" lengthAdjust="spacingAndGlyphs">0.3</text><text transform="translate(448.25 372.91) rotate(-66.56)" y="3.12" textLength="11.99" lengthAdjust="spacingAndGlyphs">0.4</text><text transform="translate(472.54 385.25) rotate(-60.17)" y="3.12" textLength="11.99" lengthAdjust="spacingAndGlyphs">0.5</text><text transform="translate(496.83 401.39) rotate(-53.31)" y="3.12" textLength="11.99" lengthAdjust="spacingAndGlyphs">0.6</text><text transform="translate(521.12 422.38) rotate(-45.76)" y="3.12" textLength="11.99" lengthAdjust="spacingAndGlyphs">0.7</text><text transform="translate(545.41 450.29) rotate(-37.05)" y="3.12" textLength="11.99" lengthAdjust="spacingAndGlyphs">0.8</text><text transform="translate(569.71 490.42) rotate(-25.99)" y="3.12" textLength="11.99" lengthAdjust="spacingAndGlyphs">0.9</text><text transform="translate(580.52 521.09) rotate(-18.31)" y="3.12" textLength="16.78" lengthAdjust="spacingAndGlyphs">0.95</text><text transform="translate(589.19 562.85) rotate(-8.16)" y="3.12" textLength="16.78" lengthAdjust="spacingAndGlyphs">0.99</text></g>
<g font-size="9.3" font-weight="bold" fill="#111" stroke="#111" stroke-width="0.3"><text x="342.5" y="599.79" text-anchor="end" textLength="4.65" lengthAdjust="spacingAndGlyphs">0</text><text x="351.1" y="613" text-anchor="middle" textLength="4.65" lengthAdjust="spacingAndGlyphs">0</text><text x="342.5" y="575.7" text-anchor="end" textLength="9.31" lengthAdjust="spacingAndGlyphs">15</text><text x="375.03" y="613" text-anchor="middle" textLength="9.31" lengthAdjust="spacingAndGlyphs">15</text><text x="342.5" y="551.61" text-anchor="end" textLength="9.31" lengthAdjust="spacingAndGlyphs">30</text><text x="398.96" y="613" text-anchor="middle" textLength="9.31" lengthAdjust="spacingAndGlyphs">30</text><text x="342.5" y="527.52" text-anchor="end" textLength="9.31" lengthAdjust="spacingAndGlyphs">45</text><text x="422.89" y="613" text-anchor="middle" textLength="9.31" lengthAdjust="spacingAndGlyphs">45</text><text x="342.5" y="503.43" text-anchor="end" textLength="9.31" lengthAdjust="spacingAndGlyphs">60</text><text x="446.82" y="613" text-anchor="middle" textLength="9.31" lengthAdjust="spacingAndGlyphs">60</text><text x="342.5" y="479.34" text-anchor="end" textLength="9.31" lengthAdjust="spacingAndGlyphs">75</text><text x="470.75" y="613" text-anchor="middle" textLength="9.31" lengthAdjust="spacingAndGlyphs">75</text><text x="342.5" y="455.25" text-anchor="end" textLength="9.31" lengthAdjust="spacingAndGlyphs">90</text><text x="494.68" y="613" text-anchor="middle" textLength="9.31" lengthAdjust="spacingAndGlyphs">90</text><text x="342.5" y="431.16" text-anchor="end" textLength="13.96" lengthAdjust="spacingAndGlyphs">105</text><text x="518.61" y="613" text-anchor="middle" textLength="13.96" lengthAdjust="spacingAndGlyphs">105</text><text x="342.5" y="407.07" text-anchor="end" textLength="13.96" lengthAdjust="spacingAndGlyphs">120</text><text x="542.54" y="613" text-anchor="middle" textLength="13.96" lengthAdjust="spacingAndGlyphs">120</text><text x="342.5" y="382.98" text-anchor="end" textLength="13.96" lengthAdjust="spacingAndGlyphs">135</text><text x="566.47" y="613" text-anchor="middle" textLength="13.96" lengthAdjust="spacingAndGlyphs">135</text><text x="342.5" y="358.89" text-anchor="end" textLength="13.96" lengthAdjust="spacingAndGlyphs">150</text><text x="590.4" y="613" text-anchor="middle" textLength="13.96" lengthAdjust="spacingAndGlyphs">150</text></g>
<text x="478.6" y="626.2" font-size="10.7" font-weight="bold" fill="#111" stroke="#111" stroke-width="0.3" text-anchor="middle" textLength="96.5" lengthAdjust="spacingAndGlyphs">Standard deviation</text>
<text transform="translate(326.2 469) rotate(-90)" font-size="10.7" font-weight="bold" fill="#111" stroke="#111" stroke-width="0.3" text-anchor="middle" textLength="96.3" lengthAdjust="spacingAndGlyphs">Standard deviation</text>
<text transform="translate(534.35 412.7) rotate(45)" font-size="11.5" fill="#111" text-anchor="middle" textLength="54" lengthAdjust="spacingAndGlyphs" stroke="#111" stroke-width="0.45">Correlation</text>
<text x="443.1" y="342.8" font-size="15.5" font-weight="bold" fill="#111" stroke="#111" stroke-width="0.3">d)</text>
<text x="430.6" y="418.3" font-size="8.7" font-weight="bold" fill="#111" stroke="#111" stroke-width="0.3" textLength="23.7" lengthAdjust="spacingAndGlyphs">RMSE</text>
<g font-size="5.6" fill="#222" font-weight="bold"><text x="357.9" y="366.1" text-anchor="middle">150</text><text x="362.3" y="381.8" text-anchor="middle">140</text><text x="416.2" y="391" text-anchor="middle">130</text><text x="462.2" y="412.3" text-anchor="middle">120</text><text x="504.2" y="446.5" text-anchor="middle">110</text><text x="546" y="505.3" text-anchor="middle">100</text><text x="554.2" y="560.1" text-anchor="middle">90</text><text x="539.6" y="565.1" text-anchor="middle">80</text><text x="524.1" y="568.9" text-anchor="middle">70</text><text x="508" y="573.3" text-anchor="middle">60</text><text x="492.8" y="577.7" text-anchor="middle">50</text><text x="477.4" y="582" text-anchor="middle">40</text><text x="462.2" y="586.4" text-anchor="middle">30</text><text x="446.7" y="590.8" text-anchor="middle">20</text><text x="431.5" y="595.2" text-anchor="middle">10</text><text x="348.6" y="599.4" text-anchor="middle">160</text></g>
<circle cx="416.1" cy="597.3" r="7.4" fill="#f01c1c" stroke="#b0101a" stroke-width="0.9"/>
<circle cx="416.1" cy="595.3" r="7.3" fill="#1a56b0" stroke="#0a2860" stroke-width="1.0"/>
<text x="406" y="590.2" font-size="11" font-weight="bold" fill="#173c78" stroke="#173c78" stroke-width="0.3" text-anchor="end" textLength="40.4" lengthAdjust="spacingAndGlyphs">SARIMA</text>
<text x="406.9" y="600.3" font-size="11" font-weight="bold" fill="#a80e16" stroke="#a80e16" stroke-width="0.3" text-anchor="end" textLength="48.3" lengthAdjust="spacingAndGlyphs">Observed</text><clipPath id="qe"><path d="M410.6 930.7 L647.2 930.7 A236.6 238.2 0 0 0 410.6 692.5 Z"/></clipPath>
<line x1="410.6" y1="930.7" x2="663" y2="930.7" stroke="#777" stroke-width="1.5"/>
<g clip-path="url(#qe)" fill="none" stroke="#5a5a5a" stroke-width="1.0" stroke-dasharray="1.1 1.3"><ellipse cx="435.84" cy="930.7" rx="15.77" ry="15.88"/><ellipse cx="435.84" cy="930.7" rx="31.55" ry="31.76"/><ellipse cx="435.84" cy="930.7" rx="47.32" ry="47.64"/><ellipse cx="435.84" cy="930.7" rx="63.09" ry="63.52"/><ellipse cx="435.84" cy="930.7" rx="78.87" ry="79.4"/><ellipse cx="435.84" cy="930.7" rx="94.64" ry="95.28"/><ellipse cx="435.84" cy="930.7" rx="110.41" ry="111.16"/><ellipse cx="435.84" cy="930.7" rx="126.19" ry="127.04"/><ellipse cx="435.84" cy="930.7" rx="141.96" ry="142.92"/><ellipse cx="435.84" cy="930.7" rx="157.73" ry="158.8"/><ellipse cx="435.84" cy="930.7" rx="173.51" ry="174.68"/><ellipse cx="435.84" cy="930.7" rx="189.28" ry="190.56"/><ellipse cx="435.84" cy="930.7" rx="205.05" ry="206.44"/><ellipse cx="435.84" cy="930.7" rx="220.83" ry="222.32"/><ellipse cx="435.84" cy="930.7" rx="236.6" ry="238.2"/><ellipse cx="435.84" cy="930.7" rx="252.37" ry="254.08"/></g>
<g fill="none" stroke="#222" stroke-width="1.4" stroke-dasharray="2.2 2.2"><path d="M410.6 906.88A23.66 23.82 0 0 1 434.26 930.7"/><path d="M410.6 883.06A47.32 47.64 0 0 1 457.92 930.7"/><path d="M410.6 859.24A70.98 71.46 0 0 1 481.58 930.7"/><path d="M410.6 835.42A94.64 95.28 0 0 1 505.24 930.7"/><path d="M410.6 811.6A118.3 119.1 0 0 1 528.9 930.7"/><path d="M410.6 787.78A141.96 142.92 0 0 1 552.56 930.7"/><path d="M410.6 763.96A165.62 166.74 0 0 1 576.22 930.7"/><path d="M410.6 740.14A189.28 190.56 0 0 1 599.88 930.7"/><path d="M410.6 716.32A212.94 214.38 0 0 1 623.54 930.7"/></g>
<path d="M410.6 905.45A25.08 25.25 0 0 1 431.99 917.52" fill="none" stroke="#1f8a3a" stroke-width="2.2" stroke-dasharray="8.5 3.5 1.5 3.5"/>
<path d="M410.6 930.7L457.92 697.31M410.6 930.7L505.24 712.39M410.6 930.7L552.56 740.14M410.6 930.7L599.88 787.78M410.6 930.7L623.54 826.87M410.6 930.7L635.37 856.32M410.6 930.7L644.83 897.1" stroke="#2277bb" stroke-width="1.25" fill="none"/>
<path d="M410.6 692.5A236.6 238.2 0 0 1 647.2 930.7" fill="none" stroke="#e01e1e" stroke-width="2.3"/>
<path d="M410.6 692.5L410.6 700M434.26 693.69L433.51 701.16M457.92 697.31L456.43 704.66M481.58 703.47L479.34 710.63M505.24 712.39L502.26 719.27M528.9 724.41L525.17 730.92M552.56 740.14L548.08 746.15M576.22 760.59L570.99 765.96M599.88 787.78L593.89 792.3M623.54 826.87L616.8 830.16M635.37 856.32L628.25 858.68M644.83 897.1L637.41 898.16M422.43 692.8L422.19 697.59M446.09 695.19L445.37 699.94M469.75 700.06L468.56 704.71M493.41 707.57L491.74 712.07M517.07 717.98L514.92 722.27M540.73 731.76L538.1 735.78M564.39 749.68L561.28 753.34M588.05 773.15L584.46 776.33M611.71 805.22L607.64 807.76M625.91 831.94L621.54 833.94M628.27 837.35L623.86 839.24M630.64 843.15L626.18 844.92M633 849.43L628.5 851.08M637.74 864L633.13 865.36M640.1 872.79L635.45 873.97M642.47 883.3L637.77 884.26" stroke="#111" stroke-width="1.8" fill="none"/>
<g font-size="8.8" font-weight="normal" fill="#111" stroke="#111" stroke-width="0.5"><text transform="translate(410.6 688.9) rotate(-90)" y="3.12" textLength="11.99" lengthAdjust="spacingAndGlyphs">0.0</text><text transform="translate(434.62 690.11) rotate(-84.3)" y="3.12" textLength="11.99" lengthAdjust="spacingAndGlyphs">0.1</text><text transform="translate(458.64 693.78) rotate(-78.54)" y="3.12" textLength="11.99" lengthAdjust="spacingAndGlyphs">0.2</text><text transform="translate(482.65 700.04) rotate(-72.65)" y="3.12" textLength="11.99" lengthAdjust="spacingAndGlyphs">0.3</text><text transform="translate(506.67 709.08) rotate(-66.56)" y="3.12" textLength="11.99" lengthAdjust="spacingAndGlyphs">0.4</text><text transform="translate(530.69 721.29) rotate(-60.17)" y="3.12" textLength="11.99" lengthAdjust="spacingAndGlyphs">0.5</text><text transform="translate(554.71 737.25) rotate(-53.32)" y="3.12" textLength="11.99" lengthAdjust="spacingAndGlyphs">0.6</text><text transform="translate(578.73 758.01) rotate(-45.77)" y="3.12" textLength="11.99" lengthAdjust="spacingAndGlyphs">0.7</text><text transform="translate(602.75 785.61) rotate(-37.06)" y="3.12" textLength="11.99" lengthAdjust="spacingAndGlyphs">0.8</text><text transform="translate(626.78 825.29) rotate(-25.99)" y="3.12" textLength="11.99" lengthAdjust="spacingAndGlyphs">0.9</text><text transform="translate(637.46 855.63) rotate(-18.31)" y="3.12" textLength="16.78" lengthAdjust="spacingAndGlyphs">0.95</text><text transform="translate(646.02 896.93) rotate(-8.16)" y="3.12" textLength="16.78" lengthAdjust="spacingAndGlyphs">0.99</text></g>
<g font-size="9.3" font-weight="normal" fill="#111" stroke="#111" stroke-width="0.4"><text x="402" y="933.49" text-anchor="end" textLength="4.65" lengthAdjust="spacingAndGlyphs">0</text><text x="410.6" y="946.7" text-anchor="middle" textLength="4.65" lengthAdjust="spacingAndGlyphs">0</text><text x="402" y="909.67" text-anchor="end" textLength="9.31" lengthAdjust="spacingAndGlyphs">15</text><text x="434.26" y="946.7" text-anchor="middle" textLength="9.31" lengthAdjust="spacingAndGlyphs">15</text><text x="402" y="885.85" text-anchor="end" textLength="9.31" lengthAdjust="spacingAndGlyphs">30</text><text x="457.92" y="946.7" text-anchor="middle" textLength="9.31" lengthAdjust="spacingAndGlyphs">30</text><text x="402" y="862.03" text-anchor="end" textLength="9.31" lengthAdjust="spacingAndGlyphs">45</text><text x="481.58" y="946.7" text-anchor="middle" textLength="9.31" lengthAdjust="spacingAndGlyphs">45</text><text x="402" y="838.21" text-anchor="end" textLength="9.31" lengthAdjust="spacingAndGlyphs">60</text><text x="505.24" y="946.7" text-anchor="middle" textLength="9.31" lengthAdjust="spacingAndGlyphs">60</text><text x="402" y="814.39" text-anchor="end" textLength="9.31" lengthAdjust="spacingAndGlyphs">75</text><text x="528.9" y="946.7" text-anchor="middle" textLength="9.31" lengthAdjust="spacingAndGlyphs">75</text><text x="402" y="790.57" text-anchor="end" textLength="9.31" lengthAdjust="spacingAndGlyphs">90</text><text x="552.56" y="946.7" text-anchor="middle" textLength="9.31" lengthAdjust="spacingAndGlyphs">90</text><text x="402" y="766.75" text-anchor="end" textLength="13.96" lengthAdjust="spacingAndGlyphs">105</text><text x="576.22" y="946.7" text-anchor="middle" textLength="13.96" lengthAdjust="spacingAndGlyphs">105</text><text x="402" y="742.93" text-anchor="end" textLength="13.96" lengthAdjust="spacingAndGlyphs">120</text><text x="599.88" y="946.7" text-anchor="middle" textLength="13.96" lengthAdjust="spacingAndGlyphs">120</text><text x="402" y="719.11" text-anchor="end" textLength="13.96" lengthAdjust="spacingAndGlyphs">135</text><text x="623.54" y="946.7" text-anchor="middle" textLength="13.96" lengthAdjust="spacingAndGlyphs">135</text><text x="402" y="695.29" text-anchor="end" textLength="13.96" lengthAdjust="spacingAndGlyphs">150</text><text x="647.2" y="946.7" text-anchor="middle" textLength="13.96" lengthAdjust="spacingAndGlyphs">150</text></g>
<text x="536.4" y="960.2" font-size="10.7" font-weight="bold" fill="#111" stroke="#111" stroke-width="0.3" text-anchor="middle" textLength="95.2" lengthAdjust="spacingAndGlyphs">Standard deviation</text>
<text transform="translate(384.1 803.7) rotate(-90)" font-size="10.7" font-weight="bold" fill="#111" stroke="#111" stroke-width="0.3" text-anchor="middle" textLength="96.3" lengthAdjust="spacingAndGlyphs">Standard deviation</text>
<text transform="translate(591.85 748.3) rotate(45)" font-size="11.5" fill="#111" text-anchor="middle" textLength="54" lengthAdjust="spacingAndGlyphs" stroke="#111" stroke-width="0.45">Correlation</text>
<text x="495.5" y="676.5" font-size="15.5" font-weight="bold" fill="#111" stroke="#111" stroke-width="0.3">e)</text>
<text x="500" y="759" font-size="8.7" font-weight="bold" fill="#111" stroke="#111" stroke-width="0.3" textLength="22" lengthAdjust="spacingAndGlyphs">RMSE</text>
<g font-size="5.6" fill="#222" font-weight="bold"><text x="411.2" y="695.5" text-anchor="middle">150</text><text x="412.9" y="711.6" text-anchor="middle">140</text><text x="493.5" y="734.5" text-anchor="middle">130</text><text x="451.4" y="928.3" text-anchor="middle">10</text><text x="466.3" y="924.6" text-anchor="middle">20</text><text x="482.1" y="920.3" text-anchor="middle">30</text><text x="497" y="915.6" text-anchor="middle">40</text><text x="511.3" y="910.3" text-anchor="middle">50</text><text x="526.7" y="906.1" text-anchor="middle">60</text><text x="542.1" y="901.9" text-anchor="middle">70</text><text x="557.2" y="898.1" text-anchor="middle">80</text><text x="571.7" y="893.3" text-anchor="middle">90</text><text x="587.7" y="889.4" text-anchor="middle">100</text><text x="603.1" y="884.6" text-anchor="middle">110</text><text x="613.4" y="867.6" text-anchor="middle">120</text><text x="410.8" y="932.9" text-anchor="middle">160</text></g>
<circle cx="435.4" cy="931" r="8.2" fill="#f01c1c" stroke="#b0101a" stroke-width="0.9"/>
<circle cx="435.8" cy="930.5" r="7.4" fill="#1a56b0" stroke="#0a2860" stroke-width="1.0"/>
<text x="434.9" y="921" font-size="11" font-weight="bold" fill="#1c3f7a" stroke="#1c3f7a" stroke-width="0.3" text-anchor="start" textLength="40.2" lengthAdjust="spacingAndGlyphs">SARIMA</text>
<text x="445.1" y="938.8" font-size="11" font-weight="bold" fill="#e0141a" stroke="#e0141a" stroke-width="0.3" text-anchor="start" textLength="46" lengthAdjust="spacingAndGlyphs">Observed</text>
</svg>
</body></html>
